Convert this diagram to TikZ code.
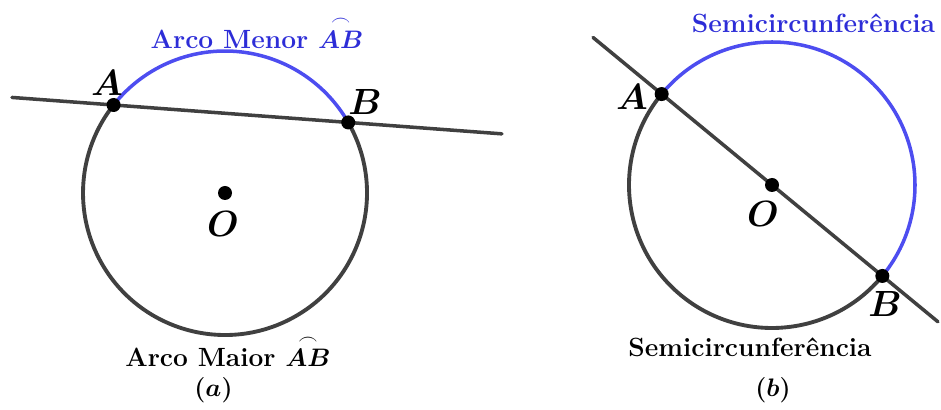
\documentclass[tikz,border=0pt]{standalone}
\usepackage{amsmath,amssymb}
\usepackage{xcolor}
\usepackage{tikz}
\usetikzlibrary{positioning,calc}
\definecolor{arcblue}{RGB}{77,77,240}
\definecolor{txtblue}{RGB}{45,45,215}
\definecolor{circgray}{RGB}{64,64,64}

\begin{document}
\begin{tikzpicture}[
  dot/.style={circle, fill=black, inner sep=0pt, minimum size=0.28cm},
  circ/.style={circgray, line width=2.2pt},
  arcb/.style={arcblue, line width=2pt},
  secant/.style={circgray, line width=2pt, line cap=round},
  lbl/.style={font=\fontsize{20.5}{24}\selectfont},
  txt/.style={font=\fontsize{15}{18}\selectfont\bfseries},
  capt/.style={font=\fontsize{15}{18}\selectfont}
]
\useasboundingbox (0,0) rectangle (18.82,8.2);
% ---- LEFT: minor and major arc ----
\coordinate (Oa) at (4.5,4.34);
\coordinate (Aa) at ($(Oa)+(141.7:2.84)$);
\coordinate (Ba) at ($(Oa)+(29.8:2.84)$);
\coordinate (La) at ($(Aa)!-0.433!(Ba)$);
\coordinate (Ra) at ($(Ba)!-0.655!(Aa)$);
\draw[circ] (Ba) arc[start angle=29.8, end angle=-218.3, radius=2.84];
\draw[arcb] (Aa) arc[start angle=141.7, end angle=29.8, radius=2.84];
\draw[secant] (La) -- (Ra);
\node[dot] (dotAa) at (Aa) {};
\node[dot] (dotBa) at (Ba) {};
\node[dot] (dotOa) at (Oa) {};
\node[lbl] (labAa) at (2.14,6.54) {$\boldsymbol{A}$};
\node[lbl] (labBa) at (7.3,6.16) {$\boldsymbol{B}$};
\node[lbl] (labOa) at (4.46,3.72) {$\boldsymbol{O}$};
\node[txt, txtblue] (minor) at (5.14,7.55) {Arco Menor $\overset{\frown}{\boldsymbol{AB}}$};
\node[txt] (major) at (4.56,1.18) {Arco Maior $\overset{\frown}{\boldsymbol{AB}}$};
\node[capt] (capa) at (4.27,0.4) {$\boldsymbol{(a)}$};
% ---- RIGHT: two semicircles ----
\coordinate (Ob) at (15.44,4.5);
\coordinate (Ab) at ($(Ob)+(140.5:2.86)$);
\coordinate (Bb) at ($(Ob)+(-39.5:2.86)$);
\coordinate (Lb) at ($(Ab)!-0.311!(Bb)$);
\coordinate (Rb) at ($(Bb)!-0.252!(Ab)$);
\draw[circ] (Bb) arc[start angle=-39.5, end angle=-219.5, radius=2.86];
\draw[arcb] (Ab) arc[start angle=140.5, end angle=-39.5, radius=2.86];
\draw[secant] (Lb) -- (Rb);
\node[dot] (dotAb) at (Ab) {};
\node[dot] (dotBb) at (Bb) {};
\node[dot] (dotOb) at (Ob) {};
\node[lbl] (labAb) at (12.64,6.26) {$\boldsymbol{A}$};
\node[lbl] (labBb) at (17.7,2.12) {$\boldsymbol{B}$};
\node[lbl] (labOb) at (15.26,3.92) {$\boldsymbol{O}$};
\node[txt, txtblue] (upper) at (16.27,7.74) {Semicircunferência};
\node[txt] (lower) at (15.0,1.26) {Semicircunferência};
\node[capt] (capb) at (15.46,0.4) {$\boldsymbol{(b)}$};
\end{tikzpicture}
\end{document}
